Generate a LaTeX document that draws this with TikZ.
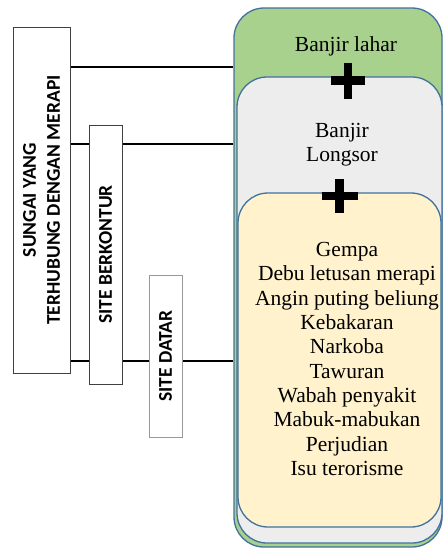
\documentclass[tikz,border=0pt]{standalone}
\usepackage{fontspec}
\setmainfont{Liberation Serif}
\newfontfamily\calib{Carlito}
\usetikzlibrary{backgrounds}
\definecolor{grn}{HTML}{A9D18E}
\definecolor{gry}{HTML}{EDEDED}
\definecolor{ylw}{HTML}{FFF2CC}
\definecolor{bord}{HTML}{41719C}
\begin{document}
\begin{tikzpicture}[x=1pt,y=-1pt,
  sidebox/.style={draw=#1, fill=white, line width=1pt, inner sep=0pt},
  sidetext/.style={rotate=90, align=center, font=\calib\bfseries\fontsize{19.5}{24}\selectfont, inner sep=0pt},
  roundbox/.style={draw=bord, fill=#1, line width=1.3pt, rounded corners=30pt, inner sep=0pt},
  boxtext/.style={align=center, font=\fontsize{21.5}{24.3}\selectfont, inner sep=0pt},
  conn/.style={line width=2.2pt, black},
  plusmark/.style={line width=8.5pt, black}]
\useasboundingbox (0,0) rectangle (443,555);
% left boxes
\node[sidebox=black!75, minimum width=57pt, minimum height=346pt] (b1) at (41.5,200) {};
\node[sidebox=black!75, minimum width=33pt, minimum height=259pt] (b2) at (105.5,254.5) {};
\node[sidebox=black!40, minimum width=33pt, minimum height=162pt] (b3) at (165.5,356) {};
\node[sidetext] (t1) at (b1.center) {SUNGAI YANG\\TERHUBUNG DENGAN MERAPI};
\node[sidetext] (t2) at (b2.center) {SITE BERKONTUR};
\node[sidetext] (t3) at (b3.center) {SITE DATAR};
% right stacked boxes
\node[roundbox=grn, minimum width=208pt, minimum height=539pt] (g) at (338,277.5) {};
\node[roundbox=gry, minimum width=205pt, minimum height=466pt] (s) at (339.5,310) {};
\node[roundbox=ylw, minimum width=203pt, minimum height=334pt] (y) at (339.5,360) {};
\node[boxtext] (tg) at (346,46) {Banjir lahar};
\node[boxtext] (ts) at (342,145) {Banjir\\Longsor};
\node[boxtext] (ty) at (347,359) {Gempa\\Debu letusan merapi\\Angin puting beliung\\Kebakaran\\Narkoba\\Tawuran\\Wabah penyakit\\Mabuk-mabukan\\Perjudian\\Isu terorisme};
% plus marks
\coordinate (p1) at (348,80.5);
\coordinate (p2) at (339.5,196);
\draw[plusmark] (p1) +(-17,0) -- +(17,0) (p1) +(0,-18) -- +(0,18);
\draw[plusmark] (p2) +(-18,0) -- +(18,0) (p2) +(0,-17) -- +(0,17);
% connectors
\coordinate (l1) at (0,67);
\coordinate (l2) at (0,144);
\coordinate (l3) at (0,361);
\begin{pgfonlayer}{background}
\draw[conn] (b1.east |- l1) -- (g.west |- l1);
\draw[conn] (b1.east |- l2) -- (g.west |- l2);
\draw[conn] (b1.east |- l3) -- (g.west |- l3);
\end{pgfonlayer}
\end{tikzpicture}
\end{document}
